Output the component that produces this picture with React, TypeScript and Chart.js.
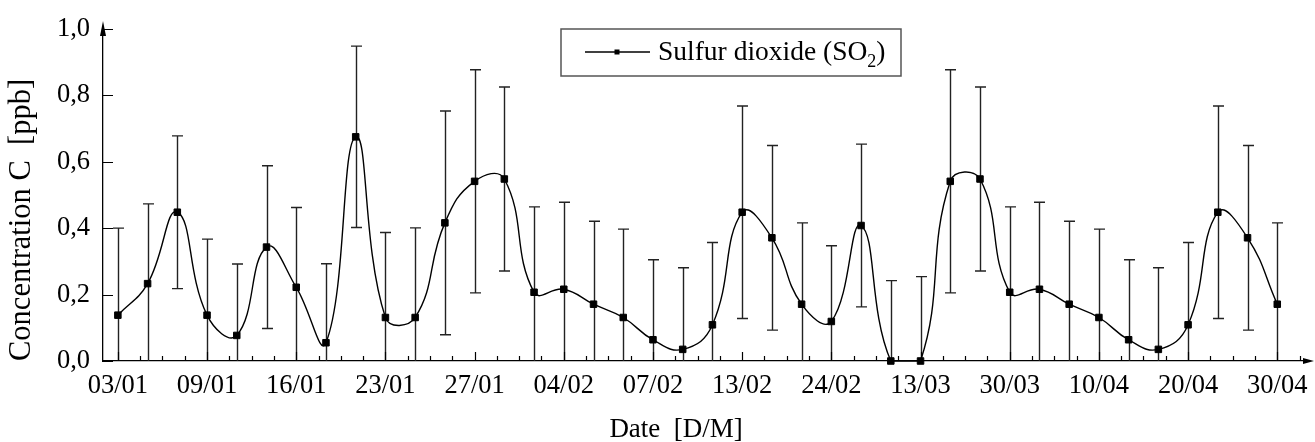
import React, { useEffect, useRef } from 'react';
import { Chart, registerables } from 'chart.js';

Chart.register(...registerables);

// ---- data ----
const dateLabels = ['03/01', '09/01', '16/01', '23/01', '27/01', '04/02', '07/02', '13/02', '24/02', '13/03', '30/03', '10/04', '20/04', '30/04'];
const so2Values = [
  0.138, 0.233, 0.448, 0.138, 0.077, 0.343, 0.222, 0.055, 0.675, 0.131,
  0.131, 0.416, 0.541, 0.548, 0.207, 0.216, 0.171, 0.131, 0.064, 0.035,
  0.109, 0.448, 0.371, 0.171, 0.119, 0.408, 0.0, 0.0, 0.541, 0.548,
  0.207, 0.216, 0.171, 0.131, 0.064, 0.035, 0.109, 0.448, 0.371, 0.171,
];
const so2Errors = [
  0.262, 0.24, 0.23, 0.229, 0.215, 0.245, 0.24, 0.238, 0.273, 0.256,
  0.27, 0.337, 0.336, 0.277, 0.257, 0.262, 0.25, 0.266, 0.241, 0.246,
  0.248, 0.32, 0.278, 0.245, 0.228, 0.245, 0.242, 0.254, 0.336, 0.277,
  0.257, 0.262, 0.25, 0.266, 0.241, 0.246, 0.248, 0.32, 0.278, 0.245,
];
const yTickValues = [0, 0.1, 0.2, 0.3, 0.4, 0.5, 0.6, 0.7, 0.8, 0.9, 1.0];
const yTickLabels = ['0,0', '0,2', '0,4', '0,6', '0,8', '1,0'];
const seriesLabel = 'Sulfur dioxide (SO₂)';
const xTitle = 'Date  [D/M]';
const yTitle = 'Concentration C  [ppb]';

const FONT = '"Liberation Serif", "Times New Roman", serif';
const near = (v: number, step: number) => Math.abs(v / step - Math.round(v / step)) < 1e-6;

const decorPlugin = {
  id: 'decor',
  beforeDatasetsDraw(chart: any) {
    const ctx = chart.ctx;
    const xs = chart.scales.x;
    const ys = chart.scales.y;
    ctx.save();
    ctx.strokeStyle = '#222';
    ctx.lineWidth = 1.4;
    so2Values.forEach((v, i) => {
      const e = so2Errors[i];
      const px = Math.round(xs.getPixelForValue(i)) + 0.5;
      const lo = v - e;
      const pTop = ys.getPixelForValue(v + e);
      const pBot = ys.getPixelForValue(Math.max(0, lo));
      ctx.beginPath();
      ctx.moveTo(px, pTop);
      ctx.lineTo(px, pBot);
      ctx.moveTo(px - 5.5, pTop);
      ctx.lineTo(px + 5.5, pTop);
      if (lo > 0) {
        ctx.moveTo(px - 5.5, pBot);
        ctx.lineTo(px + 5.5, pBot);
      }
      ctx.stroke();
    });
    ctx.restore();
  },
  afterDraw(chart: any) {
    const ctx = chart.ctx;
    const xs = chart.scales.x;
    const ys = chart.scales.y;
    const { left, right, top, bottom } = chart.chartArea;
    ctx.save();
    ctx.strokeStyle = '#000';
    ctx.fillStyle = '#000';
    ctx.lineWidth = 1.2;
    // inward ticks
    ctx.beginPath();
    xs.ticks.forEach((t: any) => {
      const px = Math.round(xs.getPixelForValue(t.value)) + 0.5;
      const len = near(t.value, 3) ? 9 : 5;
      ctx.moveTo(px, bottom);
      ctx.lineTo(px, bottom - len);
    });
    ys.ticks.forEach((t: any) => {
      const py = Math.round(ys.getPixelForValue(t.value)) + 0.5;
      const len = near(t.value, 0.2) ? 10 : 5;
      ctx.moveTo(left, py);
      ctx.lineTo(left + len, py);
    });
    ctx.stroke();
    // arrows
    ctx.beginPath();
    ctx.moveTo(left, top - 8);
    ctx.lineTo(left - 3, top + 7);
    ctx.lineTo(left + 3, top + 7);
    ctx.closePath();
    ctx.fill();
    ctx.beginPath();
    ctx.moveTo(right + 7, bottom);
    ctx.lineTo(right - 4, bottom - 3);
    ctx.lineTo(right - 4, bottom + 3);
    ctx.closePath();
    ctx.fill();

    // x title
    ctx.font = `27px ${FONT}`;
    ctx.textAlign = 'center';
    ctx.textBaseline = 'alphabetic';
    ctx.fillText(xTitle, left + (right - left) * 0.476, 437);

    // legend
    const bx = 561, by = 29, bw = 340, bh = 47;
    ctx.lineWidth = 1.5;
    ctx.strokeStyle = '#555';
    ctx.strokeRect(bx, by, bw, bh);
    ctx.strokeStyle = '#000';
    ctx.lineWidth = 1.3;
    ctx.beginPath();
    ctx.moveTo(bx + 24, by + 23);
    ctx.lineTo(bx + 89, by + 23);
    ctx.stroke();
    ctx.fillRect(bx + 56 - 2.5, by + 23 - 2.5, 5, 5);
    const [pre, post] = seriesLabel.split('₂');
    ctx.textAlign = 'left';
    let tx = bx + 97;
    const base = by + 31;
    ctx.font = `27.5px ${FONT}`;
    ctx.fillText(pre, tx, base);
    tx += ctx.measureText(pre).width;
    ctx.font = `18px ${FONT}`;
    ctx.fillText('2', tx, base + 7);
    tx += ctx.measureText('2').width;
    ctx.font = `27.5px ${FONT}`;
    ctx.fillText(post, tx, base);
    ctx.restore();
  },
};

export default function App() {
  const ref = useRef<HTMLCanvasElement | null>(null);
  useEffect(() => {
    if (!ref.current) return;
    const chart = new Chart(ref.current, {
      type: 'line',
      data: {
        datasets: [
          {
            label: seriesLabel,
            data: so2Values.map((v, i) => ({ x: i, y: v })),
            borderColor: '#000',
            borderWidth: 1.4,
            tension: 0.45,
            pointStyle: 'rect',
            pointRadius: 4.6,
            pointBackgroundColor: '#000',
            pointBorderColor: '#000',
            pointBorderWidth: 1,
            clip: false as any,
          },
        ],
      },
      options: {
        responsive: false,
        animation: false,
        devicePixelRatio: 1,
        layout: { padding: { top: 23, right: 8, left: 0, bottom: 0 } },
        plugins: { legend: { display: false }, tooltip: { enabled: false } },
        scales: {
          x: {
            type: 'linear',
            min: -0.5,
            max: 40,
            grid: { display: false, drawTicks: false },
            border: { display: true, color: '#000', width: 1.3 },
            afterBuildTicks: (scale: any) => {
              const t = [];
              for (let k = 0; k <= 53; k++) t.push({ value: k * 0.75 });
              scale.ticks = t;
            },
            afterFit: (scale: any) => {
              scale.height = 81;
            },
            ticks: {
              autoSkip: false,
              maxRotation: 0,
              padding: 9,
              color: '#000',
              font: { family: FONT, size: 26.5 },
              callback: (value: any) => (near(value, 3) ? dateLabels[Math.round(value / 3)] : ''),
            },
          },
          y: {
            type: 'linear',
            min: 0,
            max: 1,
            grid: { display: false, drawTicks: false },
            border: { display: true, color: '#000', width: 1.3 },
            afterBuildTicks: (scale: any) => {
              scale.ticks = yTickValues.map((v) => ({ value: v }));
            },
            afterFit: (scale: any) => {
              scale.width = 103;
            },
            ticks: {
              padding: 13,
              color: '#000',
              font: { family: FONT, size: 26.5 },
              callback: (value: any) => (near(value, 0.2) ? yTickLabels[Math.round(value / 0.2)] : ''),
            },
            title: {
              display: true,
              text: yTitle,
              align: 'start',
              color: '#000',
              font: { family: FONT, size: 30.5 },
              padding: { top: 4, bottom: 0 },
            },
          },
        },
      },
      plugins: [decorPlugin],
    } as any);
    return () => chart.destroy();
  }, []);
  return (
    <div style={{ position: 'absolute', left: 0, top: 0, width: 1315, height: 442, background: '#fff' }}>
      <canvas ref={ref} width={1315} height={442} style={{ display: 'block' }} />
    </div>
  );
}
